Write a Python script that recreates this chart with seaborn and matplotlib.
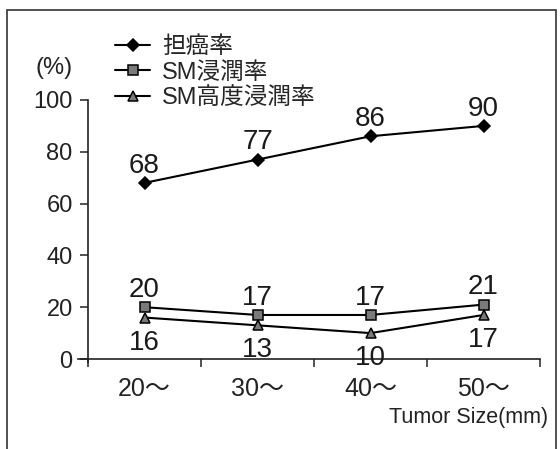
import matplotlib
matplotlib.use("Agg")
import matplotlib.pyplot as plt
import seaborn as sns
from matplotlib.patches import Rectangle

# Data
sizes = ["20～", "30～", "40～", "50～"]
series_names = ["担癌率", "SM浸潤率", "SM高度浸潤率"]
cancer_rate = [68, 77, 86, 90]
sm_rate = [20, 17, 17, 21]
sm_deep_rate = [16, 13, 10, 17]

sns.set_theme(style="white")
plt.rcParams['font.family'] = ['Liberation Sans', 'Noto Sans CJK JP', 'DejaVu Sans']

fig = plt.figure(figsize=(5.6, 4.49), dpi=100)
ax = fig.add_axes([78 / 560, 90 / 449, 462 / 560, 259 / 449])

xpos = list(range(len(sizes)))
styles = [
    (cancer_rate, "D", "black", 6.5, "above"),
    (sm_rate, "s", "#7a7a7a", 7.5, "above"),
    (sm_deep_rate, "^", "#7a7a7a", 7.5, "below"),
]

for name, (vals, mk, face, ms, where) in zip(series_names, styles):
    sns.lineplot(x=xpos, y=vals, ax=ax, color="black", linewidth=1.5,
                 marker=mk, markersize=ms, markerfacecolor=face,
                 markeredgecolor="black", markeredgewidth=1.1,
                 label=name, clip_on=False, legend=False)
    off = 12.5 if where == "above" else -18
    for x, v in zip(xpos, vals):
        ax.annotate(str(v), (x, v), xytext=(0, off), textcoords="offset points",
                    ha="center", va="center", fontsize=20, color="#1a1a1a")

ax.set_ylim(0, 100)
ax.set_xlim(-0.5 - 10 / 113, 3.5)
ax.spines['top'].set_visible(False)
ax.spines['right'].set_visible(False)
ax.spines['left'].set_position(('data', -0.5))
ax.spines['left'].set_bounds(-1.2, 100)
for s in ['left', 'bottom']:
    ax.spines[s].set_color("#222222")
    ax.spines[s].set_linewidth(1.2)

ax.set_yticks([0, 20, 40, 60, 80, 100])
ax.tick_params(axis='y', direction='out', length=6, width=1.1, pad=5,
               labelsize=17, left=True, colors="#222222")
ax.set_xticks([-0.5, 0.5, 1.5, 2.5, 3.5])
ax.set_xticklabels([])
ax.tick_params(axis='x', which='major', direction='out', length=6, width=1.1,
               bottom=True, colors="#222222")
ax.set_xticks(xpos, minor=True)
ax.set_xticklabels(sizes, minor=True)
ax.tick_params(axis='x', which='minor', length=0, pad=13, labelsize=18,
               colors="#222222")
ax.grid(False)
ax.set_xlabel("")
ax.set_ylabel("")

fig.text(54 / 560, 1 - 68 / 449, "(%)", ha="center", va="center",
         fontsize=17, color="#222222")
fig.text(548 / 560, 1 - 417 / 449, "Tumor Size(mm)", ha="right", va="center",
         fontsize=15.5, color="#222222")

handles, labels = ax.get_legend_handles_labels()
fig.legend(handles, labels, loc="upper left",
           bbox_to_anchor=(115 / 560, 1 - 36 / 449), frameon=False,
           fontsize=17, handlelength=1.5, handletextpad=0.5,
           labelspacing=0.15, borderpad=0, borderaxespad=0)

# scanned frame around the figure
fig.patches.append(Rectangle((7 / 560, -0.05), 549 / 560, 1.05 - 10 / 449,
                             transform=fig.transFigure, fill=False,
                             edgecolor="#333333", linewidth=1.2))

fig.savefig("out.png", dpi=100)
